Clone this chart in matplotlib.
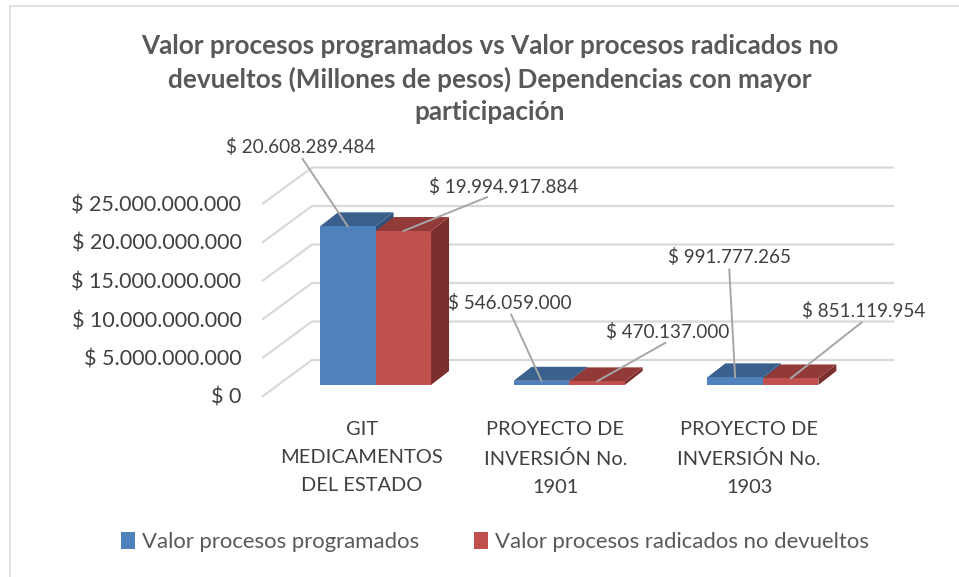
import matplotlib
matplotlib.use("Agg")
import matplotlib.pyplot as plt
from matplotlib.lines import Line2D
from matplotlib.patches import Patch, Polygon, Rectangle

# ---------- DATA ----------
CATEGORIES = ["GIT\nMEDICAMENTOS\nDEL ESTADO",
              "PROYECTO DE\nINVERSIÓN No.\n1901",
              "PROYECTO DE\nINVERSIÓN No.\n1903"]
PROGRAMADOS = [20608289484, 546059000, 991777265]
RADICADOS = [19994917884, 470137000, 851119954]
SERIES_NAMES = ["Valor procesos programados", "Valor procesos radicados no devueltos"]
Y_TICKS = [0, 5000000000, 10000000000, 15000000000, 20000000000, 25000000000]
TITLE = ("Valor procesos programados vs Valor procesos radicados no\n"
         "devueltos (Millones de pesos) Dependencias con mayor\n"
         "participación")
# --------------------------

# ---------- CONFIG ----------
W, H = 959, 577
TEXT_COLOR = "#404040"
GRID_COLOR = "#d9d9d9"
FRONT = ["#4f81bd", "#c0504d"]
TOP = ["#3a608e", "#923a38"]
SIDE = ["#315078", "#7b2f2d"]
# label offsets from the top of each bar, in pixels (one row per series)
LABEL_OFFSETS = [[(-47, 70), (-31.5, 69), (-6, 111)],
                 [(100, 35), (71, 40), (73.5, 58)]]
# where the leader leaves the label, as a fraction of the label width
LEADER_START = [[0.5, 0.5, 0.5],
                [0.41, 0.5, 0.5]]
# ----------------------------


def fmt(v):
    return "$ " + f"{v:,.0f}".replace(",", ".")


def main():
    plt.rcParams["font.family"] = ["Lato", "DejaVu Sans"]
    fig = plt.figure(figsize=(W / 100, H / 100), dpi=100)

    # outer chart border, only top and left show in the picture
    fig.add_artist(Line2D([10 / W, 10 / W, 1], [0, (H - 5.5) / H, (H - 5.5) / H], transform=fig.transFigure,
                          color="#dedede", linewidth=1.3))

    ax = fig.add_axes([265 / W, (H - 396) / H, 581 / W, 192.5 / H])
    ax.set_xlim(0, 3)
    ax.set_ylim(0, 25000000000)
    for s in ax.spines.values():
        s.set_visible(False)

    px_x = 3 / 581
    px_y = 25000000000 / 192.5

    # back wall grid with the oblique floor lines
    for t in Y_TICKS:
        ax.plot([-2 * px_x, 47 * px_x, 628 * px_x], [t, t + 36 * px_y, t + 36 * px_y],
                color=GRID_COLOR, linewidth=1.6, clip_on=False, zorder=1)

    bar_w = 55.5 * px_x
    depth_x = 18 * px_x
    depth_y = 14 * px_y
    lift = 11 * px_y
    shift = 13.7 * px_x

    for i, vals in enumerate([PROGRAMADOS, RADICADOS]):
        for c, v in enumerate(vals):
            x0 = c + 0.5 + shift + (i - 1) * bar_w
            x1 = x0 + bar_w
            y0 = lift
            y1 = lift + v
            z = 3 + i
            ax.add_patch(Polygon([(x1, y0), (x1 + depth_x, y0 + depth_y), (x1 + depth_x, y1 + depth_y), (x1, y1)],
                                 facecolor=SIDE[i], edgecolor="none", clip_on=False, zorder=z))
            ax.add_patch(Polygon([(x0, y1), (x1, y1), (x1 + depth_x, y1 + depth_y), (x0 + depth_x, y1 + depth_y)],
                                 facecolor=TOP[i], edgecolor="none", clip_on=False, zorder=z))
            ax.add_patch(Rectangle((x0, y0), bar_w, v, facecolor=FRONT[i], edgecolor="none",
                                   clip_on=False, zorder=z))

            # data label with leader line
            ax.annotate(fmt(v), xy=(x0 + bar_w / 2, y1), xycoords="data",
                        xytext=LABEL_OFFSETS[i][c], textcoords="offset pixels",
                        ha="center", va="bottom", fontsize=13.6, color=TEXT_COLOR,
                        arrowprops=dict(arrowstyle="-", color="#a6a6a6", linewidth=1.4,
                                        relpos=(LEADER_START[i][c], 0), patchA=None,
                                        shrinkA=2, shrinkB=0),
                        annotation_clip=False, zorder=8)

    ax.set_yticks(Y_TICKS)
    ax.set_yticklabels([fmt(t) for t in Y_TICKS], fontsize=15.5, color=TEXT_COLOR)
    ax.set_xticks([0.5, 1.5, 2.5])
    ax.set_xticklabels(CATEGORIES, fontsize=14.4, color=TEXT_COLOR, linespacing=1.8)
    ax.tick_params(axis="both", length=0)
    ax.tick_params(axis="y", pad=17)
    ax.tick_params(axis="x", pad=18)

    fig.text(490 / W, (H - 79) / H, TITLE, ha="center", va="center", fontsize=18.8, fontweight="bold",
             color="#595959", linespacing=1.41)

    handles = [Patch(facecolor=FRONT[0]), Patch(facecolor=FRONT[1])]
    fig.legend(handles, SERIES_NAMES, loc="center", bbox_to_anchor=(495 / W, (H - 542) / H), ncol=2,
               frameon=False, fontsize=15.9, labelcolor="#595959", handlelength=0.62, handleheight=0.85,
               handletextpad=0.32, columnspacing=2.47)

    fig.savefig("out.png", dpi=100)


if __name__ == "__main__":
    main()
